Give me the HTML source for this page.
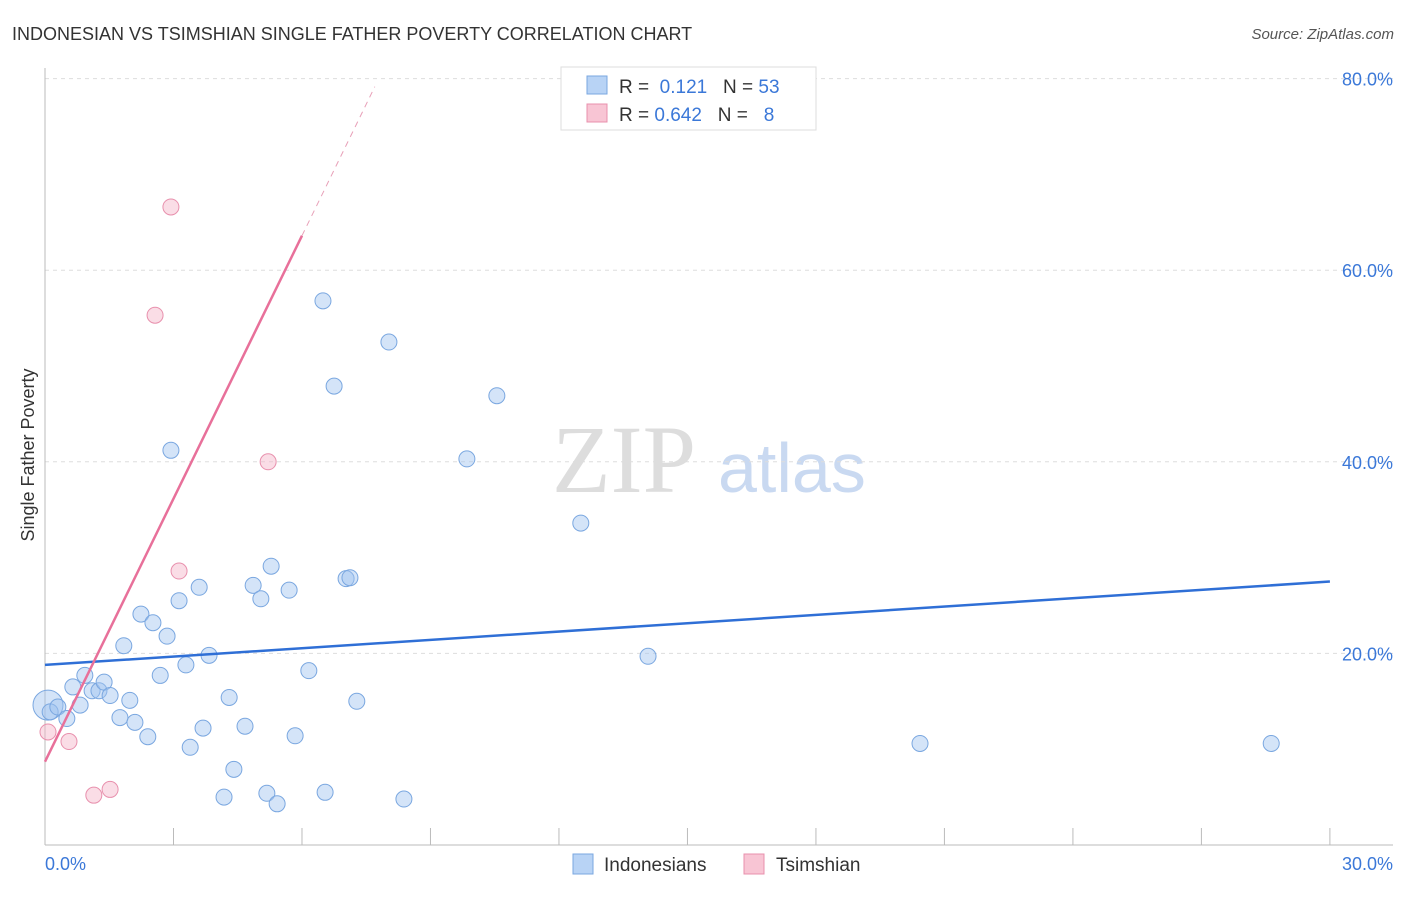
<!DOCTYPE html>
<html><head><meta charset="utf-8"><style>
body{margin:0;background:#fff;font-family:"Liberation Sans",sans-serif}
</style></head><body>
<svg id="c" width="1406" height="892" xmlns="http://www.w3.org/2000/svg">
<text x="12" y="40" font-size="18" fill="#333">INDONESIAN VS TSIMSHIAN SINGLE FATHER POVERTY CORRELATION CHART</text>
<text x="1394" y="39" font-size="15" fill="#555" text-anchor="end" font-style="italic">Source: ZipAtlas.com</text>
<text x="0" y="0" transform="translate(34,455) rotate(-90)" font-size="18" fill="#333" text-anchor="middle">Single Father Poverty</text>
<text x="552" y="492" font-size="96" fill="#ddd" font-family="Liberation Serif">ZIP</text>
<text x="718" y="492" font-size="70" fill="#c9d9f1">atlas</text>
<g id="grid"></g><g id="axes"></g><g id="marks"></g>
<g>
<rect x="561" y="67" width="255" height="63" fill="#fff" stroke="#ddd"/>
<rect x="587" y="76" width="20" height="18" fill="#b8d3f5" stroke="#7aa7e0"/>
<rect x="587" y="104" width="20" height="18" fill="#f8c5d4" stroke="#e890ad"/>
<text x="619" y="93" font-size="19" fill="#333">R = <tspan fill="#3b78d8">&#160;0.121</tspan>&#160;&#160;&#160;N = <tspan fill="#3b78d8">53</tspan></text>
<text x="619" y="121" font-size="19" fill="#333">R = <tspan fill="#3b78d8">0.642</tspan>&#160;&#160;&#160;N = <tspan fill="#3b78d8">&#160;&#160;8</tspan></text>
</g>
<g>
<rect x="573" y="854" width="20" height="20" fill="#b8d3f5" stroke="#7aa7e0"/>
<text x="604" y="871" font-size="19" fill="#333">Indonesians</text>
<rect x="744" y="854" width="20" height="20" fill="#f8c5d4" stroke="#e890ad"/>
<text x="776" y="871" font-size="19" fill="#333">Tsimshian</text>
</g>
</svg>
<script>
const blueX=[0.07,0.12,0.30,0.51,0.65,0.82,0.93,1.10,1.26,1.38,1.52,1.75,1.84,1.98,2.10,2.24,2.40,2.52,2.69,2.85,2.94,3.13,3.29,3.39,3.60,3.69,3.83,4.18,4.30,4.41,4.67,4.86,5.04,5.18,5.28,5.42,5.70,5.84,6.16,6.49,6.54,6.75,7.03,7.12,7.28,8.03,8.38,9.85,10.55,12.51,14.08,20.43,28.63];
const blueY=[14.6,13.9,14.4,13.2,16.5,14.6,17.7,16.1,16.1,17.0,15.6,13.3,20.8,15.1,12.8,24.1,11.3,23.2,17.7,21.8,41.2,25.5,18.8,10.2,26.9,12.2,19.8,5.0,15.4,7.9,12.4,27.1,25.7,5.4,29.1,4.3,26.6,11.4,18.2,56.8,5.5,47.9,27.8,27.9,15.0,52.5,4.8,40.3,46.9,33.6,19.7,10.6,10.6];
const pinkX=[0.07,0.56,1.14,1.52,2.57,2.94,3.13,5.21];
const pinkY=[11.8,10.8,5.2,5.8,55.3,66.6,28.6,40.0];
const yTicks=[20,40,60,80];
const yTickLabels=["20.0%","40.0%","60.0%","80.0%"];
const blueTrend=[18.8,0.29];
const pinkTrend=[8.7,9.15];
const NS="http://www.w3.org/2000/svg";
const sx=v=>45+v*42.83, sy=v=>845-v*9.58;
function mk(t,a,p){const e=document.createElementNS(NS,t);for(const k in a)e.setAttribute(k,a[k]);p.appendChild(e);return e;}
const grid=document.getElementById('grid'),axes=document.getElementById('axes'),marks=document.getElementById('marks');
yTicks.forEach((t,i)=>{
 const l=mk('line',{x1:45,x2:1393,y1:sy(t),y2:sy(t),stroke:'#ddd','stroke-dasharray':'4,4'},grid);
 
 
 const tx=mk('text',{x:1393,y:sy(t)+7,'font-size':18,fill:'#3b78d8','text-anchor':'end'},grid);
 tx.textContent=yTickLabels[i];
 
 
});
mk('line',{x1:45,x2:45,y1:68,y2:845,stroke:'#bbb'},axes);
mk('line',{x1:45,x2:1393,y1:845,y2:845,stroke:'#bbb'},axes);
for(let i=0;i<=10;i++){const t=mk('line',{x1:sx(i*3),x2:sx(i*3),y1:828,y2:845,stroke:'#bbb'},axes);
 
 }
let a=mk('text',{x:45,y:870,'font-size':18,fill:'#3b78d8'},axes);a.textContent='0.0%';


a=mk('text',{x:1393,y:870,'font-size':18,fill:'#3b78d8','text-anchor':'end'},axes);a.textContent='30.0%';


blueX.forEach((x,i)=>{const c=mk('circle',{cx:sx(x),cy:sy(blueY[i]),r:i==0?15:8,fill:'rgba(160,195,240,0.45)',stroke:'#7aa7e0','stroke-width':1},marks);
 
 });
pinkX.forEach((x,i)=>{const c=mk('circle',{cx:sx(x),cy:sy(pinkY[i]),r:8,fill:'rgba(245,180,200,0.45)',stroke:'#e890ad','stroke-width':1},marks);
 
 });
let tl=mk('line',{x1:sx(0),y1:sy(blueTrend[0]),x2:sx(30),y2:sy(blueTrend[0]+30*blueTrend[1]),stroke:'#2f6fd6','stroke-width':2.5},marks);


tl=mk('line',{x1:sx(0),y1:sy(pinkTrend[0]),x2:sx(6),y2:sy(pinkTrend[0]+6*pinkTrend[1]),stroke:'#e8709a','stroke-width':2.5},marks);


tl=mk('line',{x1:sx(6),y1:sy(pinkTrend[0]+6*pinkTrend[1]),x2:sx(7.7),y2:sy(pinkTrend[0]+7.7*pinkTrend[1]),stroke:'#e8a0b8','stroke-width':1,'stroke-dasharray':'6,5'},marks);


</script>
</body></html>
